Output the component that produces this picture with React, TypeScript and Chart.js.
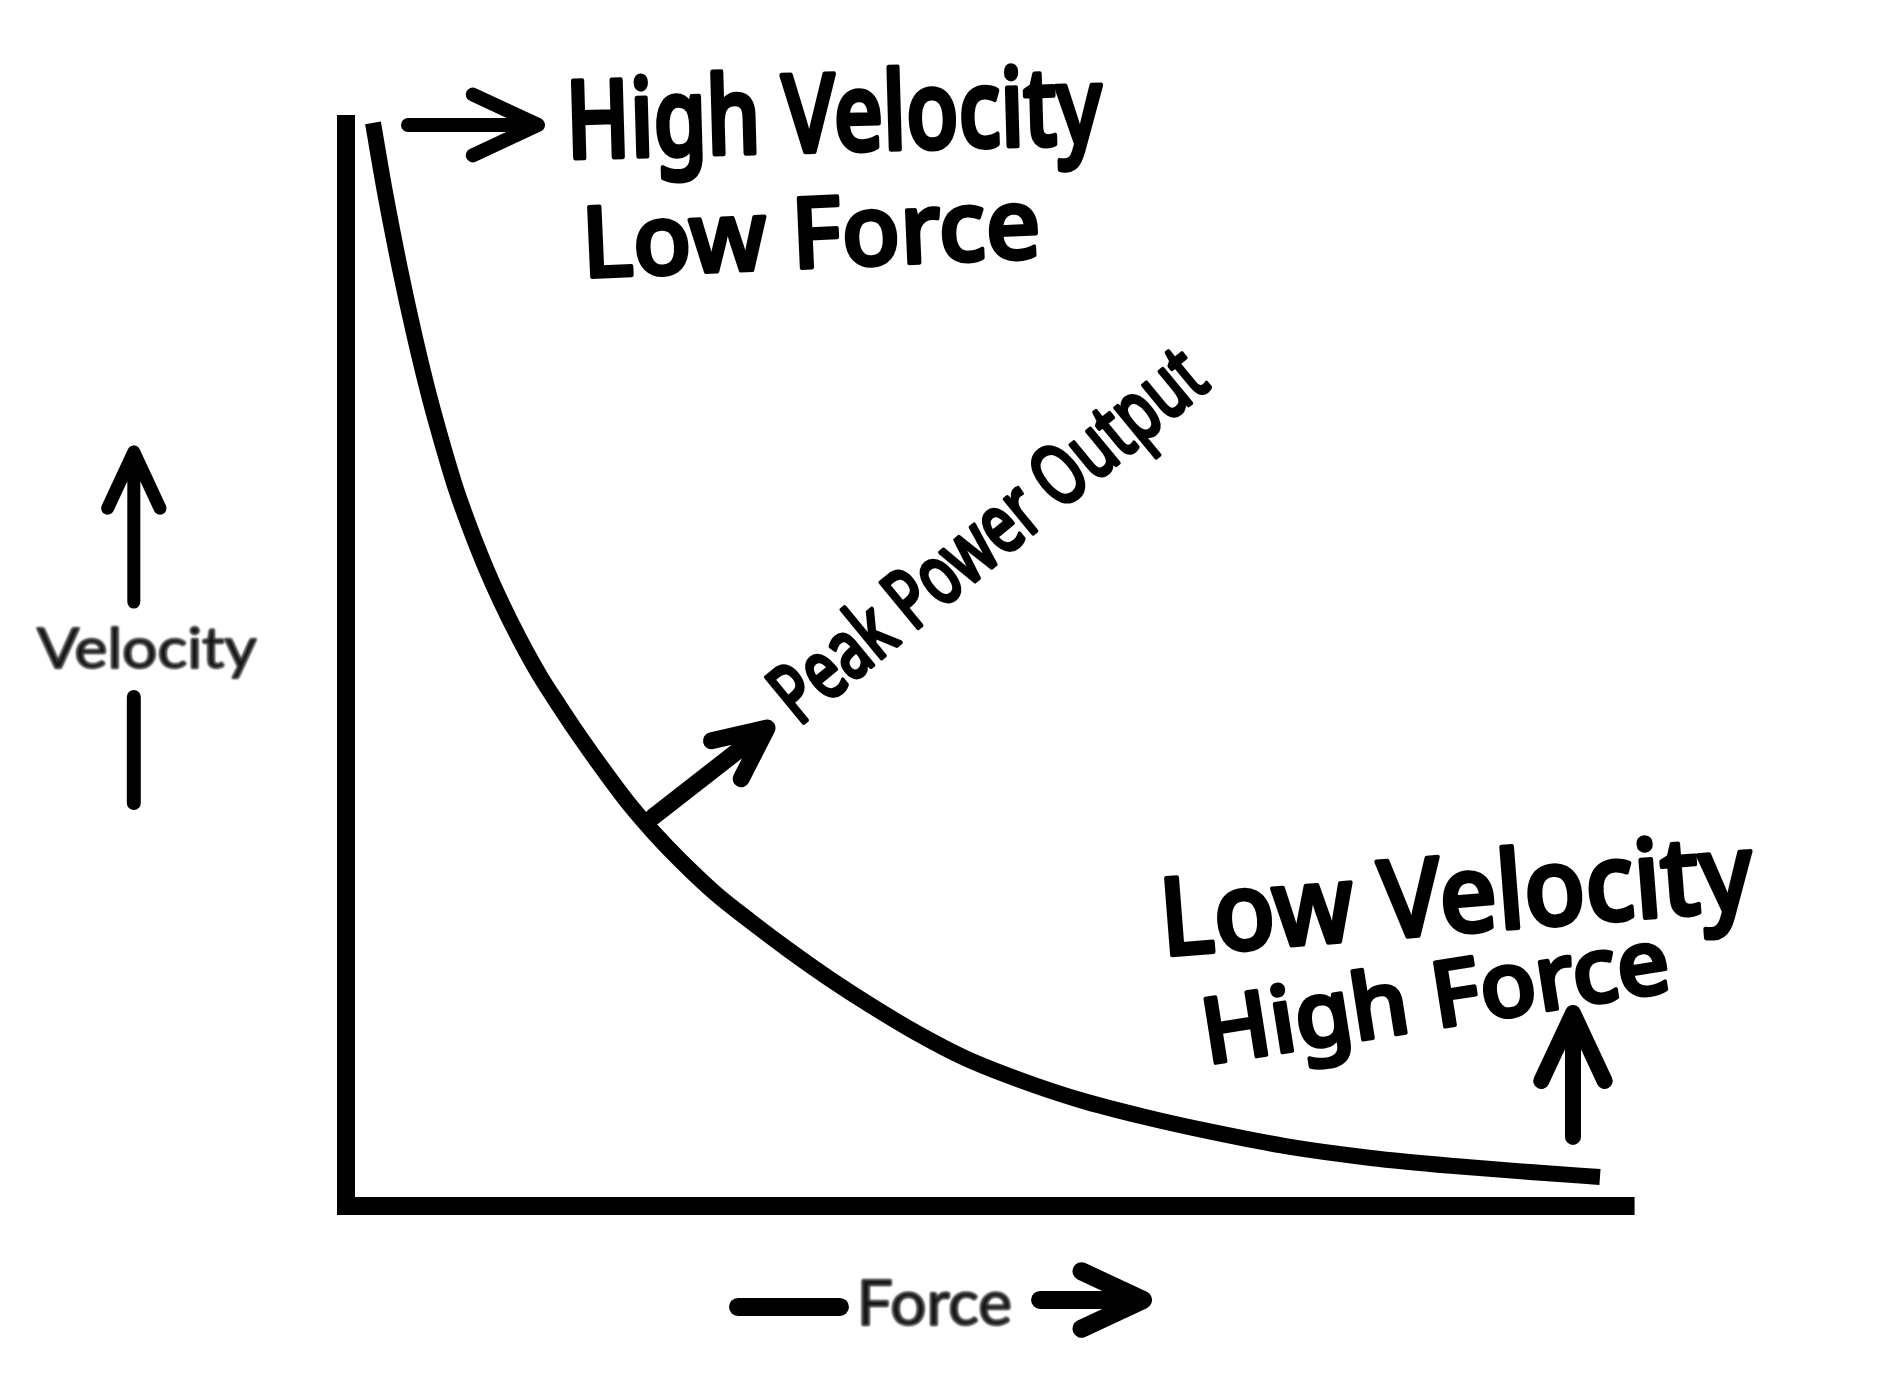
import React, { useEffect, useRef } from "react";
import { Chart, registerables } from "chart.js";

Chart.register(...registerables);

// Force–velocity curve (arbitrary units, 0–100 on each axis)
const force = [2.1, 3.03, 4.2, 5.37, 6.53, 7.7, 8.63, 9.64, 10.81, 11.98, 13.53, 15.09, 16.64, 18.2, 20.14, 22.08, 24.03, 25.97, 28.69, 31.42, 34.53, 37.64, 40.75, 44.25, 48.13, 52.41, 57.08, 62.13, 67.34, 73.41, 79.7, 86.16, 92.07, 97.51];
const velocity = [99.45, 93.11, 86.04, 79.71, 74.1, 69.15, 65.56, 62.26, 58.77, 55.65, 51.97, 48.67, 45.82, 43.07, 39.85, 36.82, 34.16, 31.77, 28.74, 26.17, 23.42, 20.84, 18.46, 15.98, 13.59, 11.57, 9.73, 8.17, 6.8, 5.42, 4.41, 3.67, 3.12, 2.66];

// Hand-drawn axis strokes
const xAxisForce = [-0.7, 100.2];
const xAxisVelocity = [0, 0];
const yAxisForce = [0, 0];
const yAxisVelocity = [-0.83, 100.18];

// Texts
const handTexts = ["High Velocity", "Low Force", "Peak Power Output", "Low Velocity", "High Force"];
const axisTitles = ["Velocity", "Force"];

const HAND_FONT = '"Noto Sans", "DejaVu Sans", sans-serif';
const LABEL_FONT = 'Lato, "Open Sans", "Noto Sans", sans-serif';

// placement of annotations (in data units of the two scales)
const handPlacement = [
  { f: 17.81, v: 96.23, angle: -1.6, width: 528, cap: 77, weight: 500, stroke: 4 },
  { f: 19.13, v: 85.31, angle: -2.5, width: 446, cap: 70, weight: 500, stroke: 4 },
  { f: 35.54, v: 44.35, angle: -39.5, width: 529, cap: 59, weight: 400, stroke: 3 },
  { f: 64.23, v: 23.05, angle: -4.5, width: 585, cap: 77, weight: 500, stroke: 4 },
  { f: 67.57, v: 13.13, angle: -9, width: 460, cap: 65, weight: 500, stroke: 4 },
];
const titlePlacement = [
  { f: -24.03, v: 49.4, angle: 0, width: 220, cap: 40 },
  { f: 40.12, v: -10.93, angle: 0, width: 148, cap: 45 },
];
const arrows = [
  { from: [4.82, 99.27], to: [14.93, 99.27], width: 14, head: 72 },
  { from: [23.87, 35.72], to: [32.74, 43.89], width: 17, head: 57 },
  { from: [95.41, 6.34], to: [95.41, 17.72], width: 16, head: 75 },
  { from: [-16.5, 55.46], to: [-16.5, 69.24], width: 13, head: 62 },
  { from: [53.97, -8.63], to: [61.98, -8.63], width: 18, head: 68 },
];
const segments = [
  { from: [-16.5, 46.74], to: [-16.5, 37.01], width: 14 },
  { from: [30.48, -9.27], to: [38.41, -9.27], width: 18 },
];

function drawFittedText(
  ctx: CanvasRenderingContext2D,
  text: string,
  x: number,
  y: number,
  angle: number,
  width: number,
  cap: number,
  family: string,
  weight: number,
  capRatio: number,
  color: string,
  extraStroke: number,
  blur: number
) {
  const size = cap / capRatio;
  ctx.save();
  ctx.translate(x, y);
  ctx.rotate((angle * Math.PI) / 180);
  ctx.font = `${weight} ${size}px ${family}`;
  ctx.textAlign = "left";
  ctx.textBaseline = "alphabetic";
  const m = ctx.measureText(text);
  const ink = m.actualBoundingBoxLeft + m.actualBoundingBoxRight;
  const sx = width / ink;
  ctx.scale(sx, 1);
  if (blur > 0) ctx.filter = `blur(${blur}px)`;
  ctx.fillStyle = color;
  ctx.fillText(text, m.actualBoundingBoxLeft, 0);
  if (extraStroke > 0) {
    ctx.strokeStyle = color;
    ctx.lineJoin = "round";
    ctx.lineCap = "round";
    ctx.lineWidth = extraStroke / sx;
    ctx.strokeText(text, m.actualBoundingBoxLeft, 0);
  }
  ctx.restore();
}

const handNotesPlugin = {
  id: "handNotes",
  afterDatasetsDraw(chart: any) {
    const { ctx } = chart;
    const xs = chart.scales.x;
    const ys = chart.scales.y;
    const X = (f: number) => xs.getPixelForValue(f);
    const Y = (v: number) => ys.getPixelForValue(v);

    ctx.save();
    ctx.strokeStyle = "#000";
    ctx.lineCap = "round";
    ctx.lineJoin = "round";

    segments.forEach((s) => {
      ctx.lineWidth = s.width;
      ctx.beginPath();
      ctx.moveTo(X(s.from[0]), Y(s.from[1]));
      ctx.lineTo(X(s.to[0]), Y(s.to[1]));
      ctx.stroke();
    });

    arrows.forEach((a) => {
      const x1 = X(a.from[0]);
      const y1 = Y(a.from[1]);
      const x2 = X(a.to[0]);
      const y2 = Y(a.to[1]);
      const ang = Math.atan2(y2 - y1, x2 - x1);
      const spread = (25 * Math.PI) / 180;
      ctx.lineWidth = a.width;
      ctx.beginPath();
      ctx.moveTo(x1, y1);
      ctx.lineTo(x2, y2);
      ctx.moveTo(x2 - a.head * Math.cos(ang - spread), y2 - a.head * Math.sin(ang - spread));
      ctx.lineTo(x2, y2);
      ctx.lineTo(x2 - a.head * Math.cos(ang + spread), y2 - a.head * Math.sin(ang + spread));
      ctx.stroke();
    });
    ctx.restore();

    handTexts.forEach((t, i) => {
      const p = handPlacement[i];
      drawFittedText(ctx, t, X(p.f), Y(p.v), p.angle, p.width, p.cap, HAND_FONT, p.weight, 0.714, "#000", p.stroke, 0);
    });
    axisTitles.forEach((t, i) => {
      const p = titlePlacement[i];
      drawFittedText(ctx, t, X(p.f), Y(p.v), p.angle, p.width, p.cap, LABEL_FONT, 400, 0.72, "#161616", 1.6, 1);
    });
  },
};

export default function App() {
  const canvasRef = useRef<HTMLCanvasElement | null>(null);

  useEffect(() => {
    if (!canvasRef.current) return;
    const chart = new Chart(canvasRef.current, {
      type: "line",
      data: {
        datasets: [
          {
            label: "Force–velocity curve",
            data: force.map((f, i) => ({ x: f, y: velocity[i] })),
            borderColor: "#000",
            borderWidth: 16,
            pointRadius: 0,
            cubicInterpolationMode: "monotone",
            borderCapStyle: "butt",
            borderJoinStyle: "round",
            fill: false,
            clip: false,
          } as any,
          {
            label: "Force axis",
            data: xAxisForce.map((f, i) => ({ x: f, y: xAxisVelocity[i] })),
            borderColor: "#000",
            borderWidth: 18,
            pointRadius: 0,
            borderCapStyle: "butt",
            fill: false,
            clip: false,
          } as any,
          {
            label: "Velocity axis",
            data: yAxisForce.map((f, i) => ({ x: f, y: yAxisVelocity[i] })),
            borderColor: "#000",
            borderWidth: 18,
            pointRadius: 0,
            borderCapStyle: "butt",
            fill: false,
            clip: false,
          } as any,
        ],
      },
      options: {
        animation: false,
        responsive: false,
        devicePixelRatio: 1,
        parsing: true,
        layout: { padding: { left: 346, right: 268, top: 117, bottom: 173 } },
        plugins: { legend: { display: false }, tooltip: { enabled: false } },
        scales: {
          x: { type: "linear", display: false, min: 0, max: 100 },
          y: { type: "linear", display: false, min: 0, max: 100 },
        },
      },
      plugins: [handNotesPlugin],
    });
    return () => chart.destroy();
  }, []);

  return (
    <div style={{ position: "absolute", left: 0, top: 0, width: 1900, height: 1379, background: "#fff" }}>
      <canvas ref={canvasRef} width={1900} height={1379} style={{ display: "block", width: 1900, height: 1379 }} />
    </div>
  );
}
